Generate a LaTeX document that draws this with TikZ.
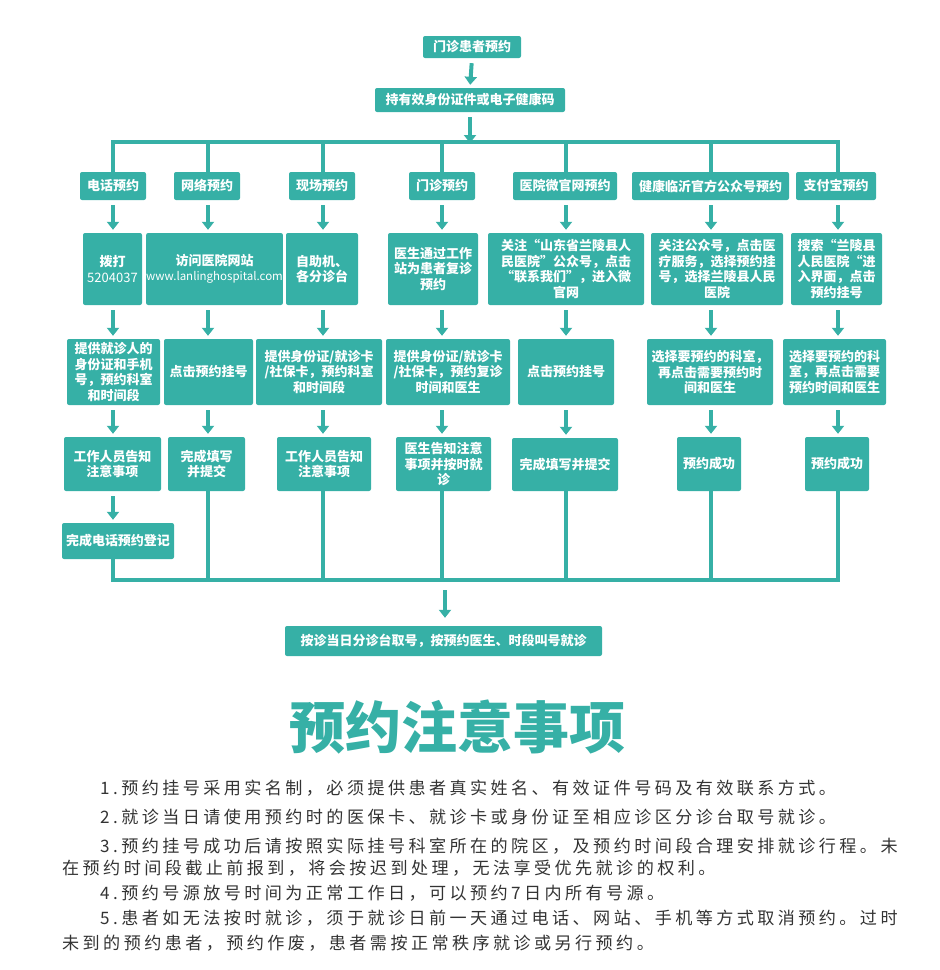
\documentclass[tikz,border=0pt]{standalone}
\usepackage{fontspec}
\setmainfont{Noto Sans CJK SC}
\newfontfamily\notefont[LetterSpace=20]{Noto Sans CJK SC}
\usetikzlibrary{arrows.meta}
\definecolor{tl}{HTML}{36B0A6}
\definecolor{tx}{HTML}{333333}
\begin{document}
\begin{tikzpicture}[x=1pt,y=-1pt,
 bx/.style={fill=tl,rounded corners=2pt,text=white,font=\bfseries\fontsize{13}{15.5}\selectfont,align=center,inner sep=0pt},
 ln/.style={draw=tl,line width=3.5pt},
 arr/.style={draw=tl,line width=4pt,-{Triangle[width=12pt,length=8pt]},shorten <=5pt,shorten >=3pt},
 nt/.style={anchor=west,text=tx,font=\notefont\fontsize{17.1}{20}\selectfont,inner sep=0pt}]
\useasboundingbox (0,0) rectangle (940,970);
\newcommand\bx[6]{\node[bx,minimum width={#4-#2},minimum height={#5-#3}] (#1) at ({(#2+#4)/2},{(#3+#5)/2}) {#6};}
\bx{a}{423}{36}{521}{58}{门诊患者预约}
\bx{b}{375}{88}{565}{112}{持有效身份证件或电子健康码}
\bx{h1}{80}{172}{146}{200}{电话预约}
\bx{h2}{174}{172}{240}{200}{网络预约}
\bx{h3}{289}{172}{355}{200}{现场预约}
\bx{h4}{409}{172}{475}{200}{门诊预约}
\bx{h5}{513}{172}{617}{200}{医院微官网预约}
\bx{h6}{632}{172}{789}{200}{健康临沂官方公众号预约}
\bx{h7}{796}{172}{876}{200}{支付宝预约}
\bx{s1}{83}{233}{142}{305}{拨打\\\mdseries 5204037}
\bx{s2}{147}{233}{282}{305}{访问医院网站\\\mdseries\fontsize{11.5}{15}\selectfont www.lanlinghospital.com}
\bx{s3}{286}{233}{358}{305}{自助机、\\各分诊台}
\bx{s4}{388}{233}{478}{305}{医生通过工作\\站为患者复诊\\预约}
\bx{s5}{488}{233}{644}{305}{关注“山东省兰陵县人\\民医院”公众号，点击\\“联系我们”，进入微\\官网}
\bx{s6}{651}{233}{783}{305}{关注公众号，点击医\\疗服务，选择预约挂\\号，选择兰陵县人民\\医院}
\bx{s7}{791}{233}{882}{305}{搜索“兰陵县\\人民医院“进\\入界面，点击\\预约挂号}
\bx{t1}{67}{339}{160}{405}{提供就诊人的\\身份证和手机\\号，预约科室\\和时间段}
\bx{t2}{164}{339}{253}{405}{点击预约挂号}
\bx{t3}{256}{339}{382}{405}{提供身份证/就诊卡\\/社保卡，预约科室\\和时间段}
\bx{t4}{386}{339}{510}{405}{提供身份证/就诊卡\\/社保卡，预约复诊\\时间和医生}
\bx{t5}{518}{339}{614}{405}{点击预约挂号}
\bx{t6}{647}{339}{773}{405}{选择要预约的科室，\\再点击需要预约时\\间和医生}
\bx{t7}{783}{339}{886}{405}{选择要预约的科\\室，再点击需要\\预约时间和医生}
\bx{u1}{64}{437}{161}{491}{工作人员告知\\注意事项}
\bx{u2}{168}{437}{245}{491}{完成填写\\并提交}
\bx{u3}{277}{437}{371}{491}{工作人员告知\\注意事项}
\bx{u4}{396}{437}{491}{491}{医生告知注意\\事项并按时就\\诊}
\bx{u5}{512}{438}{618}{491}{完成填写并提交}
\bx{u6}{677}{437}{741}{491}{预约成功}
\bx{u7}{805}{437}{869}{491}{预约成功}
\bx{v}{62}{523}{174}{559}{完成电话预约登记}
\bx{fin}{285}{626}{602}{656}{按诊当日分诊台取号，按预约医生、时段叫号就诊}
% top
\draw[arr] (a.south) -- (b.north);
\coordinate (bt) at (470,142);
\draw[arr,shorten >=-1pt] (b.south) -- (bt);
\coordinate (bl) at (113,142); \coordinate (br) at (838,142);
\draw[ln] ([xshift=-1.75pt]bl) -- ([xshift=1.75pt]br);
\foreach \i/\x in {1/113,2/208,3/323,4/442,5/566,6/711,7/838}{
 \draw[ln] (\x,142) -- (h\i.north -| \x,0);
 \draw[arr] (h\i.south -| \x,0) -- (s\i.north -| \x,0);
 \draw[arr] (s\i.south -| \x,0) -- (t\i.north -| \x,0);
 \draw[arr] (t\i.south -| \x,0) -- (u\i.north -| \x,0);
}
\draw[arr] (u1.south -| 113,0) -- (v.north -| 113,0);
\coordinate (cl) at (113,580); \coordinate (cr) at (838,580);
\draw[ln] (v.south -| 113,0) -- ([yshift=1.75pt]cl);
\foreach \i/\x in {2/208,3/323,4/442,5/566,6/711,7/838}{
 \draw[ln] (u\i.south -| \x,0) -- (\x,581.75);}
\draw[ln] ([xshift=-1.75pt]cl) -- ([xshift=1.75pt]cr);
\coordinate (cm) at (445,580);
\draw[arr,shorten <=10pt,shorten >=8pt] (cm) -- (fin.north -| cm);
% notes
\node[text=tl,font=\bfseries\fontsize{56}{60}\selectfont] (title) at (457,727) {预约注意事项};
\node[nt] (n1) at (100,788) {1.预约挂号采用实名制，必须提供患者真实姓名、有效证件号码及有效联系方式。};
\node[nt] (n2) at (100,817) {2.就诊当日请使用预约时的医保卡、就诊卡或身份证至相应诊区分诊台取号就诊。};
\node[nt] (n3) at (100,846) {3.预约挂号成功后请按照实际挂号科室所在的院区，及预约时间段合理安排就诊行程。未};
\node[nt] (n3b) at (62,868) {在预约时间段截止前报到，将会按迟到处理，无法享受优先就诊的权利。};
\node[nt] (n4) at (100,893) {4.预约号源放号时间为正常工作日，可以预约7日内所有号源。};
\node[nt] (n5) at (100,918) {5.患者如无法按时就诊，须于就诊日前一天通过电话、网站、手机等方式取消预约。过时};
\node[nt] (n5b) at (62,943) {未到的预约患者，预约作废，患者需按正常秩序就诊或另行预约。};
\end{tikzpicture}
\end{document}
